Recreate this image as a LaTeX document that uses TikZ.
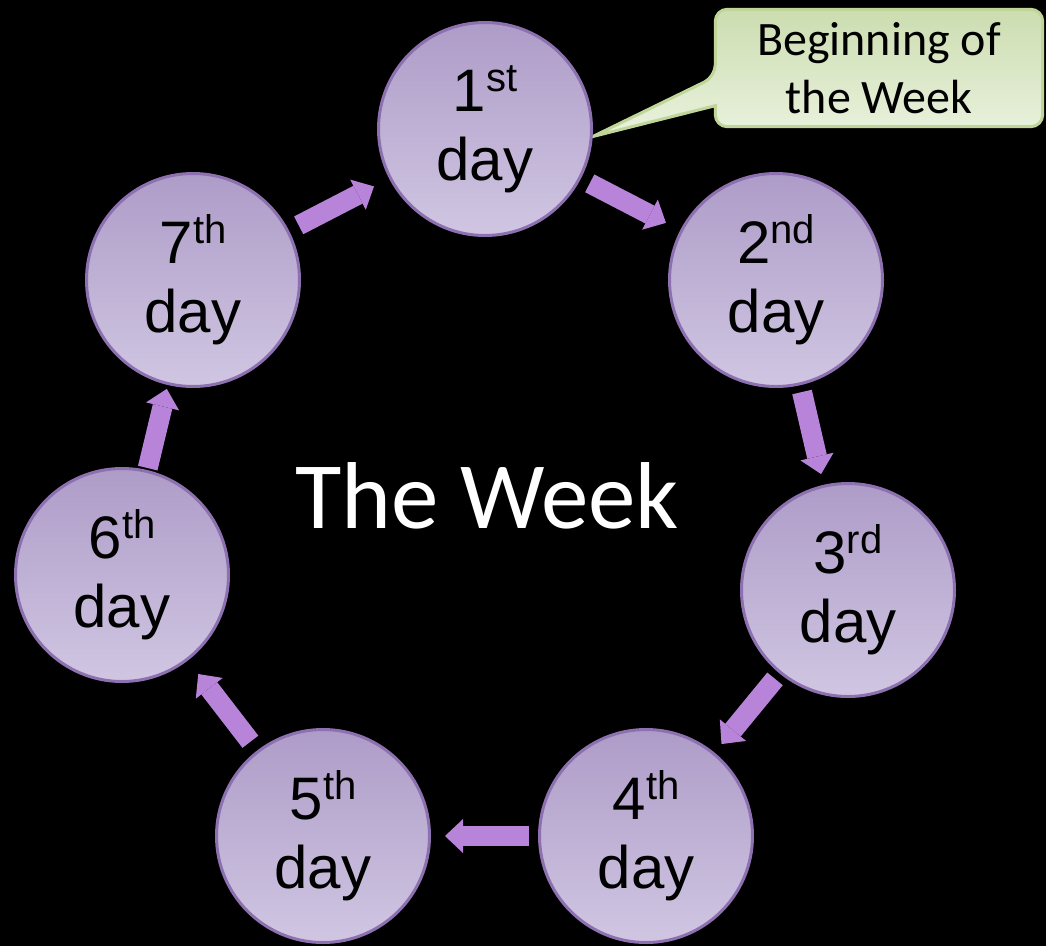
\documentclass[tikz,border=0pt]{standalone}
\usepackage{fontspec}
\setmainfont{Liberation Sans}
\newfontfamily\calibri{Carlito}
\usetikzlibrary{arrows.meta,backgrounds,calc}
\definecolor{cDayTop}{RGB}{174,156,200}
\definecolor{cDayBot}{RGB}{208,198,226}
\definecolor{eDay}{RGB}{140,112,176}
\definecolor{cFlow}{RGB}{184,132,218}
\definecolor{cNoteTop}{RGB}{204,221,176}
\definecolor{cNoteBot}{RGB}{234,242,222}
\definecolor{eNote}{RGB}{192,214,152}
\newcommand{\ord}[1]{\raisebox{20pt}{\fontsize{40}{40}\selectfont #1}}
\tikzset{
  day/.style    ={circle,draw=eDay,line width=3pt,minimum size=213pt,inner sep=0pt,
                  top color=cDayTop,bottom color=cDayBot,align=center,
                  font=\fontsize{60}{69}\selectfont},
  flow/.style   ={-{Triangle[length=18pt,width=34pt,line width=0pt]},draw=cFlow,line width=20pt},
  notebox/.style={draw=eNote,line width=3pt,top color=cNoteTop,bottom color=cNoteBot},
  note/.style   ={minimum width=327pt,minimum height=117pt,inner sep=0pt,align=center,
                  font=\calibri\fontsize{48}{58}\selectfont},
  title/.style  ={anchor=base,text=white,font=\calibri\fontsize{95}{95}\selectfont},
}

\begin{document}
\begin{tikzpicture}[x=1pt,y=-1pt]

\begin{scope}[on background layer]
\fill[black] (0,0) rectangle (1046,946);
\end{scope}

\node[day] (d1) at (485,129) {1\ord{st}\\day};
\node[day] (d2) at (776,280) {2\ord{nd}\\day};
\node[day] (d3) at (848,590) {3\ord{rd}\\day};
\node[day] (d4) at (646,836) {4\ord{th}\\day};
\node[day] (d5) at (323,836) {5\ord{th}\\day};
\node[day] (d6) at (122,575) {6\ord{th}\\day};
\node[day] (d7) at (193,280) {7\ord{th}\\day};

\node[title] (week) at (487,528) {The Week};

\draw[flow,shorten <=10pt,shorten >=16pt] (d1) -- (d2);
\draw[flow,shorten <=7pt,shorten >=11pt]  (d2) -- (d3);
\draw[flow,shorten <=7pt,shorten >=11pt]  (d3) -- (d4);
\draw[flow,shorten <=9pt,shorten >=14pt]  (d4) -- (d5);
\draw[flow,shorten <=11pt,shorten >=17pt] (d5) -- (d6);
\draw[flow,shorten <=2pt,shorten >=4pt]   (d6) -- (d7);
\draw[flow,shorten <=11pt,shorten >=17pt] (d7) -- (d1);

% callout
\node[note] (note) at (879,68) {Beginning of\\the Week};
\begin{scope}[on background layer]
\draw[notebox] ($(note.south west)+(0,-21)$) [rounded corners=12pt]
  -- (note.south west) -- (note.south east) -- (note.north east) -- (note.north west)
  -- ($(note.south west)+(0,-50)$) [sharp corners] -- (d1.-4) -- cycle;
\end{scope}

\end{tikzpicture}
\end{document}
